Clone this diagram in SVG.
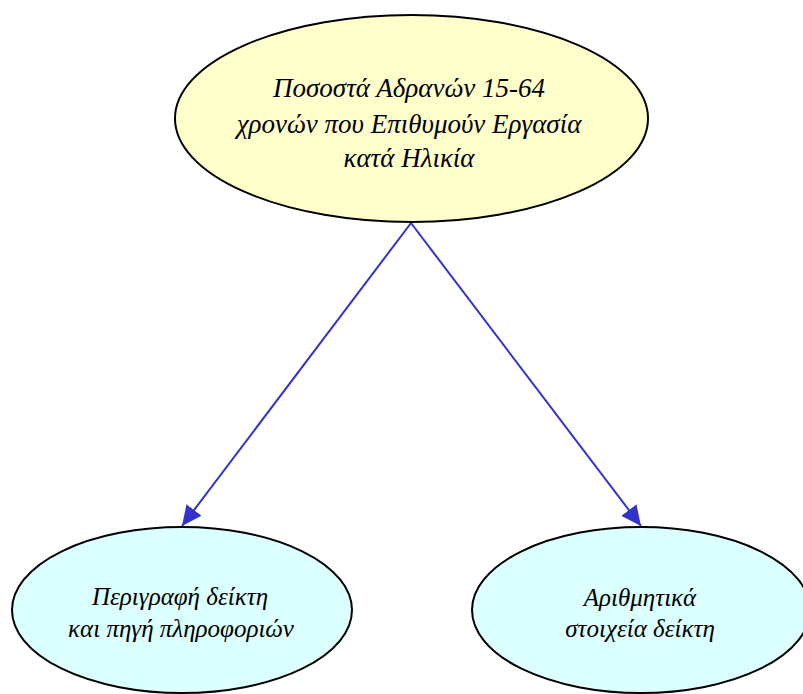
<svg xmlns="http://www.w3.org/2000/svg" width="803" height="694" viewBox="0 0 803 694">
<style>
.n ellipse{stroke:#000;stroke-width:2}
.t{font-family:"Liberation Serif","DejaVu Serif",serif;font-style:italic;font-size:27px;fill:#000;text-anchor:middle}
.s{font-size:25px}
.e{stroke:#3333cc;stroke-width:2;fill:none;marker-end:url(#ah)}
</style>
<defs>
<marker id="ah" viewBox="0 0 20 19" refX="20" refY="9.5" markerWidth="20" markerHeight="19" markerUnits="userSpaceOnUse" orient="auto">
<path d="M0,0 L20,9.5 L0,19 z" fill="#3333cc"/>
</marker>
</defs>
<rect width="803" height="694" fill="#fff"/>
<g id="connectors">
<path class="e" d="M411,223 L182,526"/>
<path class="e" d="M411,223 L641,526"/>
</g>
<g id="n0" class="n">
<ellipse cx="411.5" cy="118.5" rx="236.5" ry="103.5" fill="#ffffcc"/>
<text class="t" x="409" y="97">Ποσοστά Αδρανών 15-64</text>
<text class="t" x="409" y="133">χρονών που Επιθυμούν Εργασία</text>
<text class="t" x="409" y="167">κατά Ηλικία</text>
</g>
<g id="n1" class="n">
<ellipse cx="182" cy="610" rx="170" ry="83" fill="#dcffff"/>
<text class="t s" x="180" y="605">Περιγραφή δείκτη</text>
<text class="t s" x="181" y="637">και πηγή πληροφοριών</text>
</g>
<g id="n2" class="n">
<ellipse cx="641" cy="610" rx="169" ry="83" fill="#dcffff"/>
<text class="t s" x="640" y="606">Αριθμητικά</text>
<text class="t s" x="640" y="637">στοιχεία δείκτη</text>
</g>
</svg>
